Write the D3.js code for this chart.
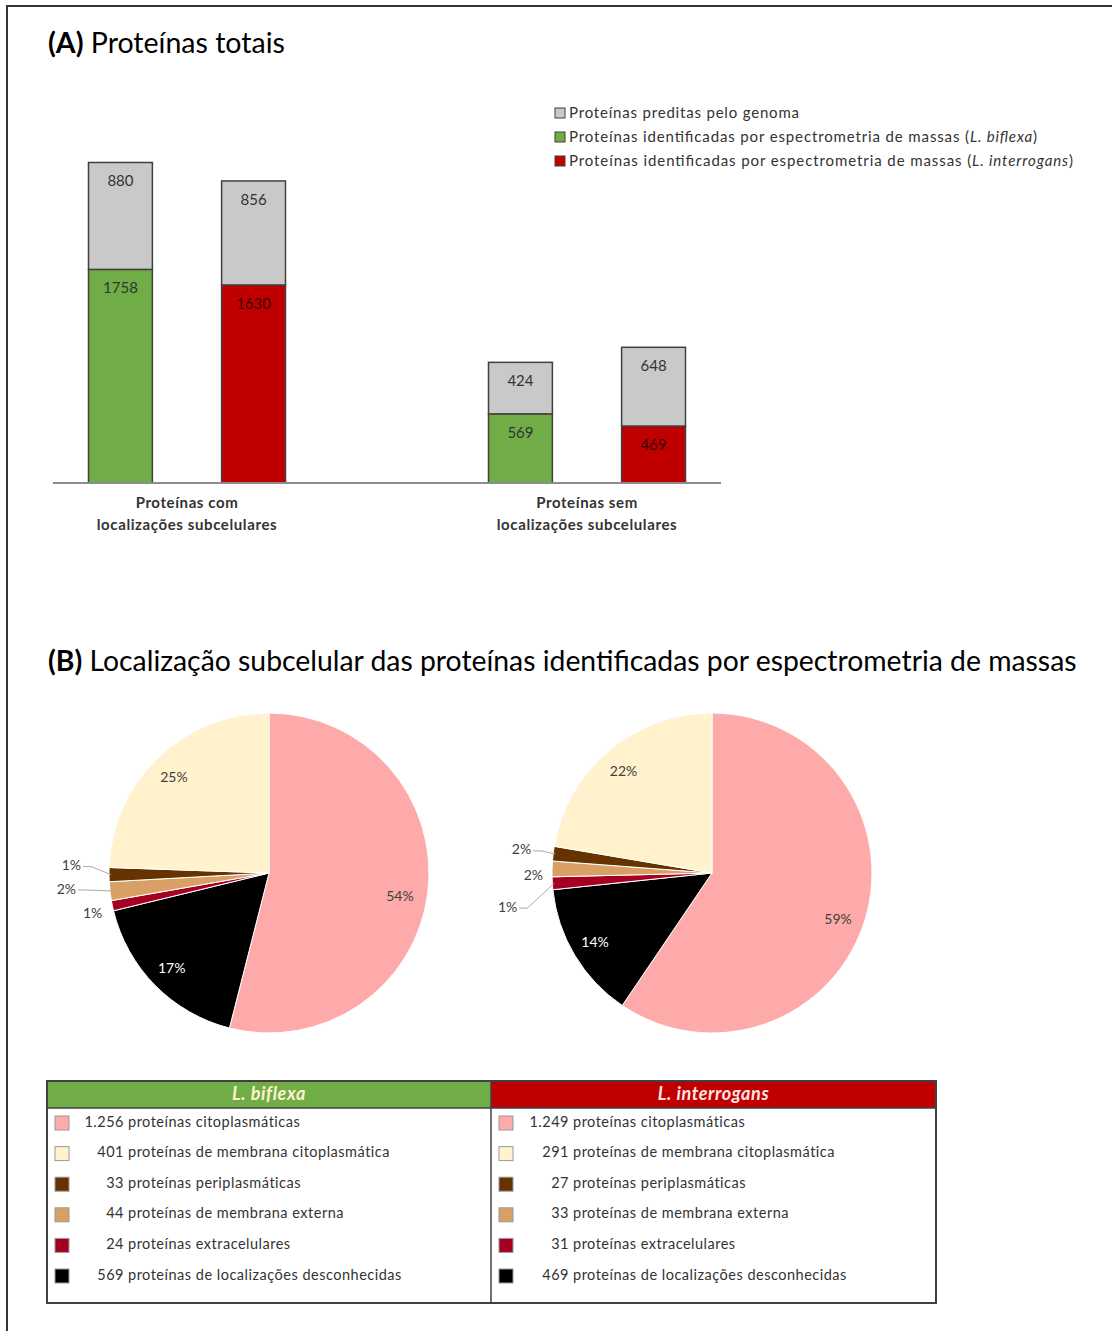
<!DOCTYPE html>
<html>
<head>
<meta charset="utf-8">
<script src="https://cdn.jsdelivr.net/npm/d3@7"></script>
<style>
  body { margin: 0; background: #fff; }
  svg text { font-family: Lato, "Noto Sans", sans-serif; }
</style>
</head>
<body>
<div id="chart"></div>
<script>
// ---- data ----
var categories = ["Proteínas com|localizações subcelulares", "Proteínas sem|localizações subcelulares"];
var species = ["L. biflexa", "L. interrogans"];
// identified by mass spectrometry (bottom segment), per category, per species
var identified = [[1758, 1630], [569, 469]];
// predicted by genome (top segment)
var predicted = [[880, 856], [424, 648]];

var legendLabels = ["Proteínas preditas pelo genoma",
                    "Proteínas identificadas por espectrometria de massas",
                    "Proteínas identificadas por espectrometria de massas"];
var legendItalic = ["", "L. biflexa", "L. interrogans"];

// pie slices, clockwise from 12 o'clock
var sliceColors = ["#ffaaaa", "#000000", "#a50021", "#d9a066", "#663300", "#fff2cc"];
var pieBiflexa = [1256, 401, 24, 44, 33, 569];
var pieInterrogans = [1249, 291, 27, 33, 31, 469];
var pctBiflexa = ["54%", "17%", "1%", "2%", "1%", "25%"];
var pctInterrogans = ["59%", "14%", "1%", "2%", "2%", "22%"];

// table legend (its own row order)
var rowColors = ["#ffaaaa", "#fff2cc", "#663300", "#d9a066", "#a50021", "#000000"];
var rowTexts = ["proteínas citoplasmáticas", "proteínas de membrana citoplasmática",
                "proteínas periplasmáticas", "proteínas de membrana externa",
                "proteínas extracelulares", "proteínas de localizações desconhecidas"];
var countsBiflexa = ["1.256", "401", "33", "44", "24", "569"];
var countsInterrogans = ["1.249", "291", "27", "33", "31", "469"];

var W = 1112, H = 1331;
var svg = d3.select("#chart").append("svg").attr("width", W).attr("height", H);

// frame (top and left edges)
svg.append("path").attr("d", "M7," + H + "V6H" + W)
    .attr("fill", "none").attr("stroke", "#333").attr("stroke-width", 2);

function title(y, bold, rest, width) {
    var t = svg.append("text").attr("x", 48).attr("y", y).style("font-size", "26px").attr("fill", "#000");
    t.append("tspan").style("font-weight", "bold").text(bold);
    t.append("tspan").text(" " + rest);
    if (width) {
        var len = t.node().getComputedTextLength();
        t.style("font-size", (26 * width / len) + "px");
    }
}
title(53, "(A)", "Proteínas totais", 237);
title(671, "(B)", "Localização subcelular das proteínas identificadas por espectrometria de massas", 1029);

// ---- (A) stacked bars ----
var baseY = 483;
var y = d3.scaleLinear().domain([0, 3000]).range([baseY, baseY - 3000 * 0.1215]);
var xGroup = d3.scalePoint().domain(categories).range([187, 587]);
var xSp = d3.scaleBand().domain(species).range([-98.5, 98.5]).paddingInner(0.52);
var barColors = ["#70ad47", "#c00000"];

var rows = [];
categories.forEach(function(c, i) {
    species.forEach(function(s, j) {
        rows.push({cat: c, sp: s, j: j, identified: identified[i][j], predicted: predicted[i][j]});
    });
});
var stacked = d3.stack().keys(["identified", "predicted"])(rows);

stacked.forEach(function(layer) {
    var g = svg.append("g");
    layer.forEach(function(d) {
        var x0 = xGroup(d.data.cat) + xSp(d.data.sp);
        var fill = layer.key === "predicted" ? "#c9c9c9" : barColors[d.data.j];
        g.append("rect")
            .attr("x", x0).attr("y", y(d[1]))
            .attr("width", xSp.bandwidth()).attr("height", y(d[0]) - y(d[1]))
            .attr("fill", fill).attr("stroke", "#404040").attr("stroke-width", 1.5);
        g.append("text")
            .attr("x", x0 + xSp.bandwidth() / 2).attr("y", y(d[1]) + 20)
            .attr("text-anchor", "middle").attr("dominant-baseline", "middle")
            .style("font-size", "15px")
            .attr("fill", layer.key === "identified" && d.data.j === 1 ? "#3a0000" : "#333")
            .text(d.data[layer.key]);
    });
});

svg.append("line").attr("x1", 53).attr("x2", 721).attr("y1", baseY).attr("y2", baseY)
    .attr("stroke", "#8c8c8c").attr("stroke-width", 2);

categories.forEach(function(c) {
    c.split("|").forEach(function(line, k) {
        svg.append("text").attr("x", xGroup(c)).attr("y", 508 + k * 22)
            .attr("text-anchor", "middle").style("font-size", "15px").style("font-weight", "bold")
            .style("letter-spacing", "0.6px")
            .attr("fill", "#333").text(line);
    });
});

// legend
var legendFill = ["#c9c9c9", "#70ad47", "#c00000"];
var legendWidth = [230, 468, 504];
legendLabels.forEach(function(lbl, i) {
    var ly = 113 + i * 24;
    svg.append("rect").attr("x", 555).attr("y", ly - 5).attr("width", 10).attr("height", 10)
        .attr("fill", legendFill[i]).attr("stroke", "#404040").attr("stroke-width", 1);
    var t = svg.append("text").attr("x", 569).attr("y", ly + 5).style("font-size", "15px").attr("fill", "#333")
        .attr("textLength", legendWidth[i]).attr("lengthAdjust", "spacing");
    t.append("tspan").text(lbl);
    if (legendItalic[i]) {
        t.append("tspan").text("  (");
        t.append("tspan").style("font-style", "italic").text(legendItalic[i]);
        t.append("tspan").text(")");
    }
});

// ---- (B) pies ----
var R = 160;
var pie = d3.pie().sort(null);
var arc = d3.arc().innerRadius(0).outerRadius(R);
var labelArc = d3.arc().innerRadius(134).outerRadius(134);

// outside-label placement for the thin slices: [dx, dy] from the rim point, leader or not
var outside = [
    {2: [-24, 9, false], 3: [-48, -1, true], 4: [-42, -8, true]},
    {2: [-49, 25, true], 3: [-23, 7, false], 4: [-36, -3, true]}
];

function drawPie(cx, cy, values, labels, place) {
    var g = svg.append("g").attr("transform", "translate(" + cx + "," + cy + ")");
    var arcs = pie(values);
    g.selectAll("path.slice").data(arcs).enter().append("path")
        .attr("class", "slice")
        .attr("d", arc).attr("fill", function(d, i) { return sliceColors[i]; })
        .attr("stroke", "#fff").attr("stroke-width", 1);
    arcs.forEach(function(d, i) {
        var p = place[i];
        if (p) {
            var a = (d.startAngle + d.endAngle) / 2;
            var rx = Math.sin(a) * (R - 2), ry = -Math.cos(a) * (R - 2);
            var lx = rx + p[0], ly = ry + p[1];
            if (p[2]) {
                g.append("polyline")
                    .attr("points", [[lx + 14, ly], [lx + 22, ly], [rx, ry]].join(" "))
                    .attr("fill", "none").attr("stroke", "#aaa").attr("stroke-width", 1);
            }
            g.append("text").attr("x", lx + 12).attr("y", ly).attr("text-anchor", "end")
                .attr("dominant-baseline", "middle").style("font-size", "14px").attr("fill", "#404040")
                .text(labels[i]);
        } else {
            var c = labelArc.centroid(d);
            var a2 = (d.startAngle + d.endAngle) / 2;
            // Excel places the large-slice labels a little lower than the centroid
            g.append("text").attr("x", c[0] - 2).attr("y", c[1] + (Math.sin(a2) > 0.9 ? 8 : 2))
                .attr("text-anchor", "middle").attr("dominant-baseline", "middle")
                .style("font-size", "14px")
                .attr("fill", sliceColors[i] === "#000000" ? "#fff" : "#404040")
                .text(labels[i]);
        }
    });
}
drawPie(269, 873, pieBiflexa, pctBiflexa, outside[0]);
drawPie(712, 873, pieInterrogans, pctInterrogans, outside[1]);

// ---- table legend ----
var tx0 = 47, tx1 = 936, tMid = 491, tTop = 1081, tHead = 27, tBottom = 1303;
var cols = [
    {x: tx0, w: tMid - tx0, head: species[0], fill: "#70ad47", tc: "#fff2cc", counts: countsBiflexa, numX: 124},
    {x: tMid, w: tx1 - tMid, head: species[1], fill: "#c00000", tc: "#ffe6e6", counts: countsInterrogans, numX: 569}
];
cols.forEach(function(c) {
    svg.append("rect").attr("x", c.x).attr("y", tTop).attr("width", c.w).attr("height", tHead)
        .attr("fill", c.fill);
    svg.append("text").attr("x", c.x + c.w / 2).attr("y", tTop + tHead / 2 + 1)
        .attr("text-anchor", "middle").attr("dominant-baseline", "middle")
        .style("font-size", "18px").style("font-weight", "bold").style("font-style", "italic")
        .style("letter-spacing", "0.6px")
        .attr("fill", c.tc).text(c.head);
    rowTexts.forEach(function(txt, i) {
        var ry = 1123 + i * 30.6;
        svg.append("rect").attr("x", c.x + 8).attr("y", ry - 7).attr("width", 14).attr("height", 14)
            .attr("fill", rowColors[i]).attr("stroke", "#999").attr("stroke-width", 1);
        svg.append("text").attr("x", c.numX).attr("y", ry).attr("text-anchor", "end")
            .attr("dominant-baseline", "middle").style("font-size", "14.5px").style("letter-spacing", "0.5px")
            .attr("fill", "#333").text(c.counts[i]);
        svg.append("text").attr("x", c.numX + 4).attr("y", ry)
            .attr("dominant-baseline", "middle").style("font-size", "14.5px").style("letter-spacing", "0.5px")
            .attr("fill", "#333").text(txt);
    });
});
svg.append("rect").attr("x", tx0).attr("y", tTop).attr("width", tx1 - tx0).attr("height", tBottom - tTop)
    .attr("fill", "none").attr("stroke", "#404040").attr("stroke-width", 2);
svg.append("line").attr("x1", tx0).attr("x2", tx1).attr("y1", tTop + tHead).attr("y2", tTop + tHead)
    .attr("stroke", "#404040").attr("stroke-width", 1.5);
svg.append("line").attr("x1", tMid).attr("x2", tMid).attr("y1", tTop).attr("y2", tBottom)
    .attr("stroke", "#404040").attr("stroke-width", 1.5);
</script>
</body>
</html>
